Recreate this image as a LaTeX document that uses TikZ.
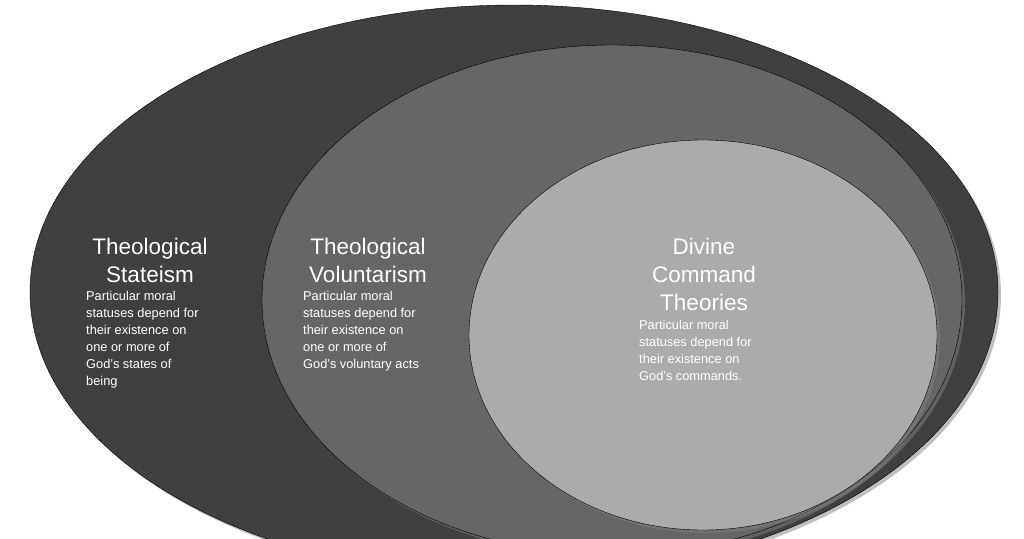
\documentclass[tikz,border=0pt]{standalone}
\usepackage{fontspec}
\setmainfont{Liberation Sans}
\usetikzlibrary{shadows}
\tikzset{
	x=1pt, y=-1pt,
	ring/.style={draw=black, thin, drop shadow={shadow xshift=3pt, shadow yshift=-3pt, opacity=0.5}},
	title/.style={text=white, font=\fontsize{22.5}{28}\selectfont, align=center, inner sep=0pt},
	blurb/.style={text=white, font=\fontsize{12.8}{17}\selectfont, align=left, inner sep=0pt, anchor=north west}
}
\begin{document}
\begin{tikzpicture}
	\useasboundingbox (0,0) rectangle (1024,538);
	\clip (0,0) rectangle (1024,538);
	\fill[white] (0,0) rectangle (1024,538);
%	the three sets
	\path[ring, fill=black!75] (514,292) ellipse [x radius=484, y radius=287];
	\path[ring, fill=black!60] (612,300) ellipse [x radius=350, y radius=255];
	\path[ring, fill=black!33] (703,335) ellipse [x radius=234, y radius=195];

%	labels
	\node[title] (stateism) at (150,260) {Theological\\Stateism};
	\node[blurb] (stateismtext) at (86,291) {Particular moral\\statuses depend for\\their existence on\\one or more of\\God's states of\\being};
	\node[title] (volunt) at (368,260) {Theological\\Voluntarism};
	\node[blurb] (volunttext) at (303,291) {Particular moral\\statuses depend for\\their existence on\\one or more of\\God's voluntary acts};
	\node[title] (dct) at (704,274) {Divine\\Command\\Theories};
	\node[blurb] (dcttext) at (639,320) {Particular moral\\statuses depend for\\their existence on\\God's commands.};
\end{tikzpicture}
\end{document}
